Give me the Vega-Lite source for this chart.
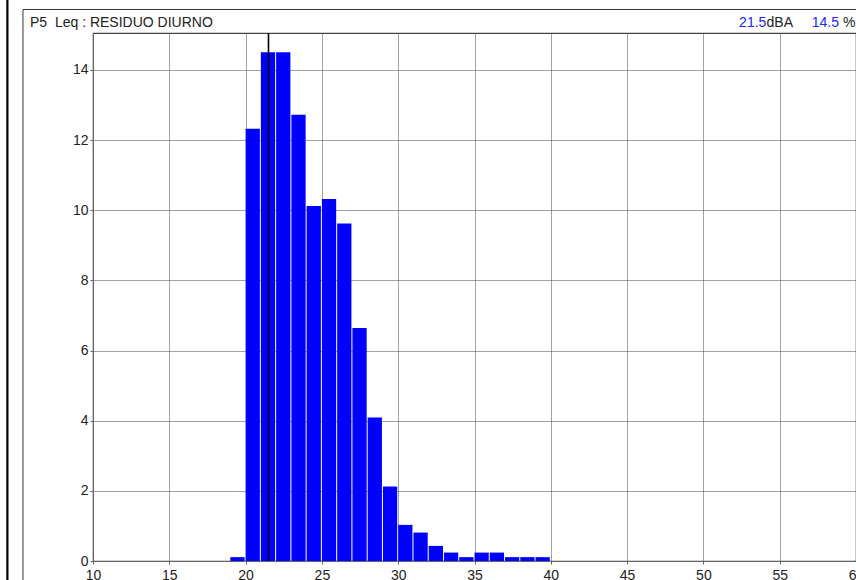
{
  "$schema": "https://vega.github.io/schema/vega-lite/v6.json",
  "width": 763,
  "height": 528,
  "autosize": "none",
  "padding": {"left": 93, "top": 33, "right": 0, "bottom": 19},
  "background": "white",
  "config": {
    "font": "Liberation Sans",
    "view": {"stroke": "#444", "strokeWidth": 1.2},
    "axis": {
      "grid": true,
      "gridColor": "#444",
      "gridDash": [1, 1],
      "gridWidth": 1,
      "domainColor": "#666",
      "tickColor": "#666",
      "tickSize": 3,
      "labelFontSize": 14,
      "labelColor": "#222",
      "labelFont": "Liberation Sans",
      "title": null,
      "zindex": 1
    }
  },
  "datasets": {
    "bars": [
      {"lo": 19, "hi": 20, "pct": 0.11},
      {"lo": 20, "hi": 21, "pct": 12.32},
      {"lo": 21, "hi": 22, "pct": 14.5},
      {"lo": 22, "hi": 23, "pct": 14.5},
      {"lo": 23, "hi": 24, "pct": 12.72},
      {"lo": 24, "hi": 25, "pct": 10.12},
      {"lo": 25, "hi": 26, "pct": 10.32},
      {"lo": 26, "hi": 27, "pct": 9.62},
      {"lo": 27, "hi": 28, "pct": 6.64},
      {"lo": 28, "hi": 29, "pct": 4.09},
      {"lo": 29, "hi": 30, "pct": 2.12},
      {"lo": 30, "hi": 31, "pct": 1.03},
      {"lo": 31, "hi": 32, "pct": 0.81},
      {"lo": 32, "hi": 33, "pct": 0.43},
      {"lo": 33, "hi": 34, "pct": 0.24},
      {"lo": 34, "hi": 35, "pct": 0.11},
      {"lo": 35, "hi": 36, "pct": 0.24},
      {"lo": 36, "hi": 37, "pct": 0.24},
      {"lo": 37, "hi": 38, "pct": 0.11},
      {"lo": 38, "hi": 39, "pct": 0.11},
      {"lo": 39, "hi": 40, "pct": 0.11}
    ]
  },
  "layer": [
    {
      "data": {"name": "bars"},
      "mark": {"type": "bar", "color": "#0000ff", "x2Offset": -1},
      "encoding": {
        "x": {
          "field": "lo",
          "type": "quantitative",
          "scale": {"domain": [10, 60], "nice": false, "zero": false},
          "axis": {"values": [10, 15, 20, 25, 30, 35, 40, 45, 50, 55, 60], "labelPadding": 4, "labelFlush": false, "labelOverlap": false}
        },
        "x2": {"field": "hi"},
        "y": {
          "field": "pct",
          "type": "quantitative",
          "scale": {"domain": [0, 15.05], "nice": false},
          "axis": {"values": [0, 2, 4, 6, 8, 10, 12, 14], "labelPadding": 2}
        },
        "y2": {"datum": 0}
      }
    },
    {
      "data": {"values": [{}]},
      "mark": {"type": "rule", "color": "#000", "strokeWidth": 1.6},
      "encoding": {
        "x": {"datum": 21.5, "type": "quantitative"},
        "y": {"datum": 0, "type": "quantitative"},
        "y2": {"datum": 15.05}
      }
    },
    {
      "data": {"values": [{}]},
      "mark": {"type": "rule", "color": "#000", "strokeWidth": 2.2, "clip": false},
      "encoding": {
        "x": {"datum": 4.39, "type": "quantitative"},
        "y": {"datum": 16.0, "type": "quantitative"},
        "y2": {"datum": -0.6}
      }
    },
    {
      "data": {"values": [{}]},
      "mark": {"type": "rule", "color": "#333", "strokeWidth": 1, "clip": false},
      "encoding": {
        "x": {"datum": 5.41, "type": "quantitative"},
        "y": {"datum": 15.72, "type": "quantitative"},
        "y2": {"datum": -0.6}
      }
    },
    {
      "data": {"values": [{}]},
      "mark": {"type": "rule", "color": "#333", "strokeWidth": 1, "clip": false},
      "encoding": {
        "x": {"datum": 5.41, "type": "quantitative"},
        "x2": {"datum": 60},
        "y": {"datum": 15.72, "type": "quantitative"}
      }
    },
    {
      "data": {"values": [{}]},
      "mark": {"type": "text", "align": "left", "baseline": "alphabetic", "dy": -6, "fontSize": 14, "color": "#222", "font": "Liberation Sans"},
      "encoding": {
        "x": {"datum": 5.87, "type": "quantitative"},
        "y": {"datum": 15.05, "type": "quantitative"},
        "text": {"value": "P5\u00a0 Leq : RESIDUO DIURNO"}
      }
    },
    {
      "data": {"values": [{}]},
      "mark": {"type": "text", "align": "left", "baseline": "alphabetic", "dy": -6, "fontSize": 14, "color": "#2222ff", "font": "Liberation Sans"},
      "encoding": {
        "x": {"datum": 52.34, "type": "quantitative"},
        "y": {"datum": 15.05, "type": "quantitative"},
        "text": {"value": "21.5"}
      }
    },
    {
      "data": {"values": [{}]},
      "mark": {"type": "text", "align": "left", "baseline": "alphabetic", "dy": -6, "fontSize": 14, "color": "#222", "font": "Liberation Sans"},
      "encoding": {
        "x": {"datum": 54.14, "type": "quantitative"},
        "y": {"datum": 15.05, "type": "quantitative"},
        "text": {"value": "dBA"}
      }
    },
    {
      "data": {"values": [{}]},
      "mark": {"type": "text", "align": "left", "baseline": "alphabetic", "dy": -6, "fontSize": 14, "color": "#2222ff", "font": "Liberation Sans"},
      "encoding": {
        "x": {"datum": 57.1, "type": "quantitative"},
        "y": {"datum": 15.05, "type": "quantitative"},
        "text": {"value": "14.5"}
      }
    },
    {
      "data": {"values": [{}]},
      "mark": {"type": "text", "align": "left", "baseline": "alphabetic", "dy": -6, "fontSize": 14, "color": "#222", "font": "Liberation Sans"},
      "encoding": {
        "x": {"datum": 59.15, "type": "quantitative"},
        "y": {"datum": 15.05, "type": "quantitative"},
        "text": {"value": "%"}
      }
    }
  ]
}
